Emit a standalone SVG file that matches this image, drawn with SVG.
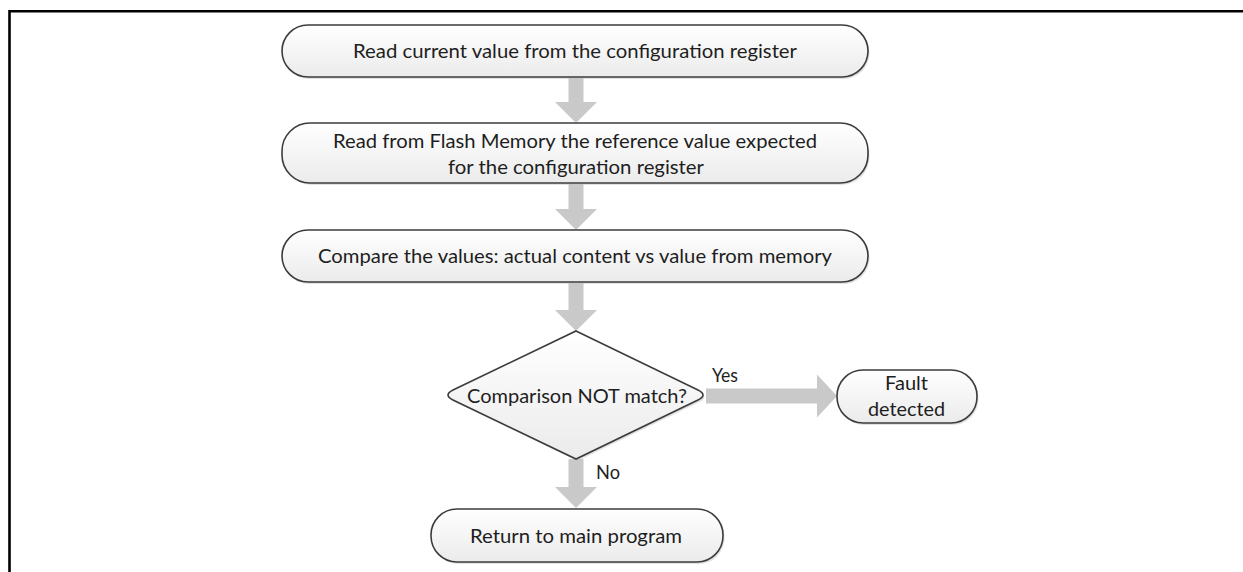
<svg xmlns="http://www.w3.org/2000/svg" width="1243" height="572" viewBox="0 0 1243 572">
<defs>
<linearGradient id="g" x1="0" y1="0" x2="0" y2="1">
<stop offset="0" stop-color="#ffffff"/>
<stop offset="1" stop-color="#ebebeb"/>
</linearGradient>
<style>
.n{fill:url(#g);stroke:#3c3c3c;stroke-width:1.6}
.sh{fill:#c4c4c4;opacity:0.5}
.t{font-family:Lato,"Open Sans","Liberation Sans",sans-serif;font-size:20px;fill:#1e1e1e;text-anchor:middle}
.l{font-family:Lato,"Open Sans","Liberation Sans",sans-serif;font-size:20px;fill:#1e1e1e}
.a{fill:#c9c9c9}
.b{stroke:#000;stroke-width:2.6;fill:none}
</style>
</defs>
<rect width="1243" height="572" fill="#fff"/>
<g id="frame">
<path class="b" d="M9.5,572 V11.3 H1243"/>
</g>
<g id="connectors">
<path class="a" d="M568.5,78 H583.5 V102 H597 L576,123 L555,102 H568.5 Z"/>
<path class="a" d="M568.5,184 H583.5 V209 H597 L576,230 L555,209 H568.5 Z"/>
<path class="a" d="M568.5,283 H583.5 V310 H597 L576,331 L555,310 H568.5 Z"/>
<path class="a" d="M568.5,459 H583.5 V487 H597 L576,508 L555,487 H568.5 Z"/>
<path class="a" d="M706,388.5 H817 V374.5 L837,396 L817,417.5 V403.5 H706 Z"/>
<text class="l" x="712" y="382" textLength="26" lengthAdjust="spacingAndGlyphs">Yes</text>
<text class="l" x="596" y="479" textLength="24" lengthAdjust="spacingAndGlyphs">No</text>
</g>
<g id="n1">
<rect class="sh" x="283.5" y="27" width="586" height="52" rx="26"/>
<rect class="n" x="282" y="25" width="586" height="52" rx="26"/>
<text class="t" x="575" y="58" textLength="444" lengthAdjust="spacingAndGlyphs">Read current value from the configuration register</text>
</g>
<g id="n2">
<rect class="sh" x="283.5" y="125" width="586" height="60" rx="28"/>
<rect class="n" x="282" y="123" width="586" height="60" rx="28"/>
<text class="t" x="575" y="148" textLength="484" lengthAdjust="spacingAndGlyphs">Read from Flash Memory the reference value expected</text>
<text class="t" x="576" y="174" textLength="256" lengthAdjust="spacingAndGlyphs">for the configuration register</text>
</g>
<g id="n3">
<rect class="sh" x="283.5" y="232" width="586" height="52" rx="26"/>
<rect class="n" x="282" y="230" width="586" height="52" rx="26"/>
<text class="t" x="575" y="263" textLength="514" lengthAdjust="spacingAndGlyphs">Compare the values: actual content vs value from memory</text>
</g>
<g id="decision">
<path class="sh" d="M577.5,333 L699.5,392 Q709.5,397 699.5,402 L577.5,461 L454.5,402 Q444.5,397 454.5,392 Z"/>
<path class="n" d="M576,331 L698,390 Q708,395 698,400 L576,459 L453,400 Q443,395 453,390 Z"/>
<text class="t" x="577" y="403" textLength="220" lengthAdjust="spacingAndGlyphs">Comparison NOT match?</text>
</g>
<g id="fault">
<rect class="sh" x="838.5" y="372" width="140" height="53" rx="26"/>
<rect class="n" x="837" y="370" width="140" height="53" rx="26"/>
<text class="t" x="906.5" y="390" textLength="43" lengthAdjust="spacingAndGlyphs">Fault</text>
<text class="t" x="906.5" y="416" textLength="77" lengthAdjust="spacingAndGlyphs">detected</text>
</g>
<g id="return">
<rect class="sh" x="432.5" y="511" width="292" height="53" rx="26"/>
<rect class="n" x="431" y="509" width="292" height="53" rx="26"/>
<text class="t" x="576" y="543" textLength="212" lengthAdjust="spacingAndGlyphs">Return to main program</text>
</g>
</svg>
